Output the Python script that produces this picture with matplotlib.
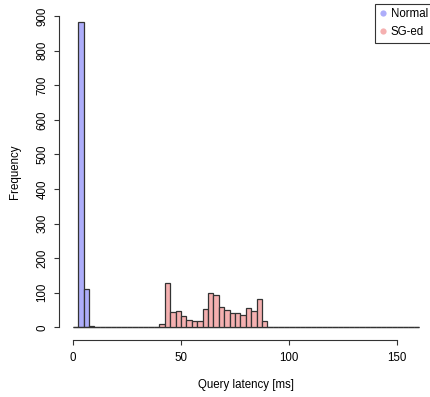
import numpy as np
import matplotlib
matplotlib.use("Agg")
import matplotlib.pyplot as plt
from matplotlib.lines import Line2D

plt.rcParams['font.family'] = ['Liberation Sans', 'DejaVu Sans']

# Histogram bins: 2.5 ms wide, from 0 to 160 ms
bin_width = 2.5
bin_edges = np.arange(0, 160 + bin_width, bin_width)

# Counts per bin (left edge -> count); bins not listed are empty
normal_counts = {2.5: 882, 5.0: 110, 7.5: 5}
sged_counts = {
    40.0: 11, 42.5: 129, 45.0: 45, 47.5: 46, 50.0: 32, 52.5: 20,
    55.0: 18, 57.5: 17, 60.0: 53, 62.5: 99, 65.0: 93, 67.5: 59,
    70.0: 50, 72.5: 42, 75.0: 41, 77.5: 35, 80.0: 56, 82.5: 47,
    85.0: 83, 87.5: 18, 90.0: 2, 105.0: 1, 112.5: 1, 135.0: 1, 142.5: 1,
}

series_labels = ["Normal", "SG-ed"]
x_ticks = [0, 50, 100, 150]
y_ticks = [0, 100, 200, 300, 400, 500, 600, 700, 800, 900]

blue_fill = "#adadfa"
red_fill = "#f5b0b0"
edge = "#333333"

fig = plt.figure(figsize=(4.30, 3.97), dpi=100)
W, H = 430, 397
left_px, right_px = 58.9, 432.8
top_px, bottom_px = 3.5, 339.8
ax = fig.add_axes([left_px / W, 1 - bottom_px / H,
                   (right_px - left_px) / W, (bottom_px - top_px) / H])

lefts = bin_edges[:-1]
nh = [normal_counts.get(float(b), 0) for b in lefts]
sh = [sged_counts.get(float(b), 0) for b in lefts]

ax.bar(lefts, nh, width=bin_width, align='edge', color=blue_fill,
       edgecolor=edge, linewidth=0.9)
ax.bar(lefts, sh, width=bin_width, align='edge', color=red_fill,
       edgecolor=edge, linewidth=0.9)

ax.set_xlim(-6.4, 166.4)
ax.set_ylim(-36, 936)

for s in ['top', 'right']:
    ax.spines[s].set_visible(False)
ax.spines['left'].set_bounds(0, 900)
ax.spines['bottom'].set_bounds(0, 150)
for s in ['left', 'bottom']:
    ax.spines[s].set_linewidth(0.8)
    ax.spines[s].set_color('#333333')

ax.set_xticks(x_ticks)
ax.set_yticks(y_ticks)
ax.tick_params(axis='both', direction='out', length=3.6, width=0.8,
               color='#333333', labelsize=8.3)
ax.tick_params(axis='x', pad=5.5)
ax.tick_params(axis='y', pad=4)
for lab in ax.get_yticklabels():
    lab.set_rotation(90)
    lab.set_va('center')

ax.set_xlabel("Query latency [ms]", fontsize=8.3, labelpad=10.5)
ax.set_ylabel("Frequency", fontsize=8.3, labelpad=11)

handles = [
    Line2D([], [], linestyle='none', marker='o', markersize=4.5,
           markerfacecolor=blue_fill, markeredgecolor='none'),
    Line2D([], [], linestyle='none', marker='o', markersize=4.5,
           markerfacecolor=red_fill, markeredgecolor='none'),
]
leg = ax.legend(handles, series_labels, loc='upper right',
                bbox_to_anchor=(1, 1), borderaxespad=0, fontsize=8.3,
                frameon=True, fancybox=False, framealpha=1,
                edgecolor='#333333', handlelength=0.5, handletextpad=0.45,
                labelspacing=0.55, borderpad=0.4)
leg.get_frame().set_linewidth(0.8)

fig.savefig("out.png", dpi=100)
